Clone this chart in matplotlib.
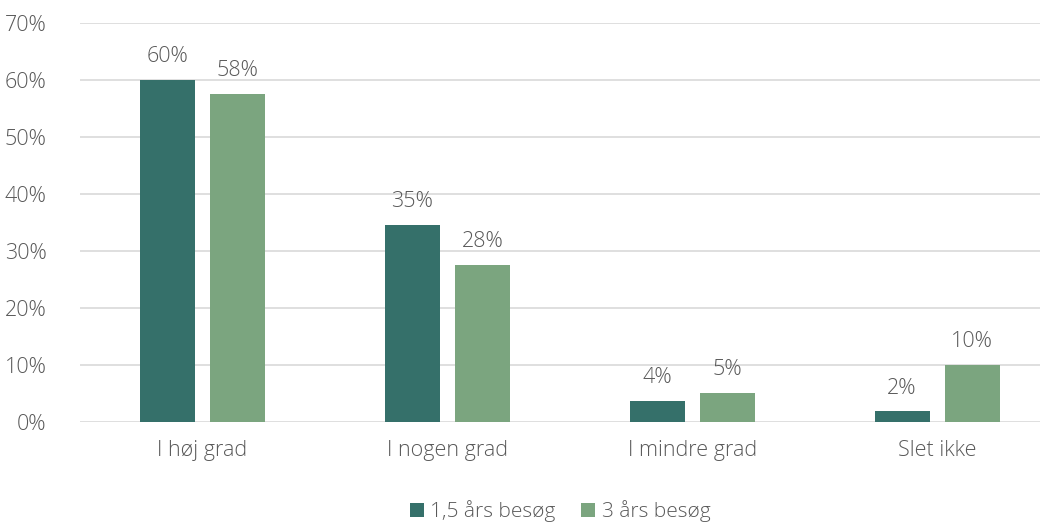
import numpy as np
import matplotlib.pyplot as plt
from matplotlib.ticker import FuncFormatter

categories = ["I høj grad", "I nogen grad", "I mindre grad", "Slet ikke"]
series_names = ["1,5 års besøg", "3 års besøg"]
vals_15 = [60.0, 34.6, 3.7, 1.9]
vals_3 = [57.6, 27.6, 5.1, 10.0]
yticks = [0, 10, 20, 30, 40, 50, 60, 70]

plt.rcParams['font.family'] = ['Open Sans', 'DejaVu Sans']
plt.rcParams['font.weight'] = 'light'
txt = '#595959'
fs = 15.5

fig = plt.figure(figsize=(10.46, 5.25), dpi=100)
ax = fig.add_axes([80/1046, 103/525, 960/1046, 399/525])

x = np.arange(len(categories))
w = 0.225
off = 0.143
b1 = ax.bar(x - off, vals_15, w, color='#35706A', label=series_names[0], zorder=3)
b2 = ax.bar(x + off, vals_3, w, color='#7BA57F', label=series_names[1], zorder=3)

for bars in (b1, b2):
    for r in bars:
        h = r.get_height()
        ax.text(r.get_x() + r.get_width()/2, h + 2.2, "%.0f%%" % h,
                ha='center', va='bottom', fontsize=fs, color=txt)

ax.set_xlim(-0.5, 3.42)
ax.set_ylim(0, 70)
ax.set_yticks(yticks)
ax.yaxis.set_major_formatter(FuncFormatter(lambda v, p: "%d%%" % v))
ax.set_xticks(x)
ax.set_xticklabels(categories)
ax.tick_params(axis='both', length=0, labelsize=fs, colors=txt)
ax.tick_params(axis='x', pad=13)
ax.tick_params(axis='y', pad=24)
ax.grid(axis='y', color='#D9D9D9', linewidth=1.2, zorder=0)
for s in ax.spines.values():
    s.set_visible(False)

ax.legend(loc='upper center', bbox_to_anchor=(0.5, -0.162), ncol=2, frameon=False,
          fontsize=15, labelcolor=txt, handlelength=0.7, handleheight=0.7,
          handletextpad=0.3, columnspacing=1.2, borderpad=0.15)

fig.savefig('out.png', dpi=100)
